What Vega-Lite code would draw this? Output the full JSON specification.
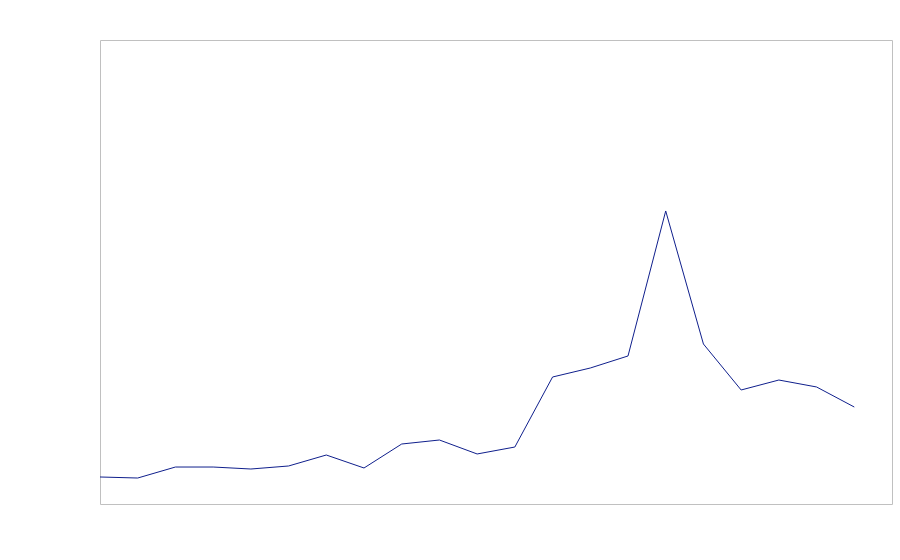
{
  "$schema": "https://vega.github.io/schema/vega-lite/v6.json",
  "width": 792,
  "height": 464,
  "autosize": {"type": "none"},
  "padding": {"left": 100, "top": 40, "right": 8, "bottom": 56},
  "config": {"view": {"stroke": "#c0c0c0", "strokeWidth": 1}},
  "data": {"values": [
    {"i": 0, "v": 5.82}, {"i": 1, "v": 5.6}, {"i": 2, "v": 7.97}, {"i": 3, "v": 7.97},
    {"i": 4, "v": 7.54}, {"i": 5, "v": 8.19}, {"i": 6, "v": 10.56}, {"i": 7, "v": 7.76},
    {"i": 8, "v": 12.93}, {"i": 9, "v": 13.79}, {"i": 10, "v": 10.78}, {"i": 11, "v": 12.28},
    {"i": 12, "v": 27.37}, {"i": 13, "v": 29.31}, {"i": 14, "v": 31.9}, {"i": 15, "v": 63.15},
    {"i": 16, "v": 34.48}, {"i": 17, "v": 24.57}, {"i": 18, "v": 26.72}, {"i": 19, "v": 25.22},
    {"i": 20, "v": 20.9}
  ]},
  "mark": {"type": "line", "color": "#0f1f8c", "strokeWidth": 1},
  "encoding": {
    "x": {"field": "i", "type": "quantitative", "scale": {"domain": [0, 21], "nice": false, "zero": false}, "axis": null},
    "y": {"field": "v", "type": "quantitative", "scale": {"domain": [0, 100], "nice": false}, "axis": null}
  }
}
